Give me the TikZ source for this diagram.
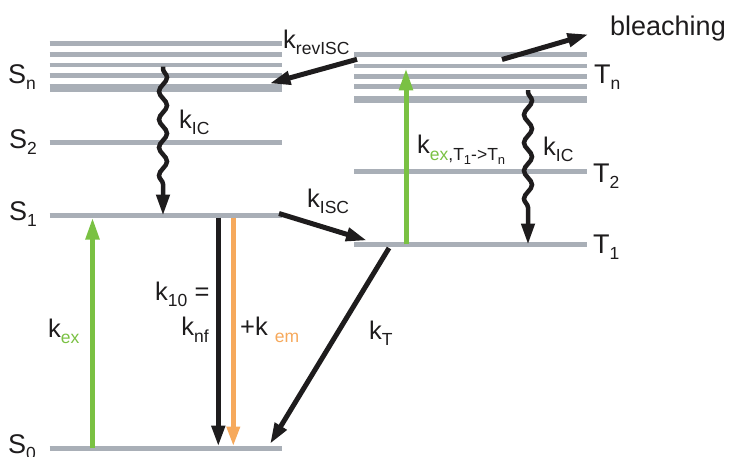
\documentclass[tikz,border=0pt]{standalone}
\usepackage{fontspec}
\setmainfont{Liberation Sans}
\usetikzlibrary{arrows.meta,decorations.pathmorphing}
\definecolor{lvl}{RGB}{169,175,183}
\definecolor{kgreen}{RGB}{122,193,67}
\definecolor{korange}{RGB}{246,169,92}
\definecolor{kblack}{RGB}{30,28,29}
\newcommand\msz{\fontsize{25.5}{29}\selectfont}
\newcommand\bsz{\fontsize{27}{31}\selectfont}
\newcommand\lsz{\fontsize{27}{31}\selectfont}
\newcommand\lsb[1]{\raisebox{-6.5pt}{\fontsize{17.5}{17.5}\selectfont #1}}
\newcommand\llsb[1]{\raisebox{-4pt}{\fontsize{13}{13}\selectfont #1}}
\begin{document}
\begin{tikzpicture}[x=1pt,y=-1pt,
  level/.style={draw=lvl,line width=4.8pt},
  thicklevel/.style={draw=lvl,line width=7.5pt},
  lab/.style={anchor=base west,inner sep=0pt,font=\msz,text=kblack},
  slab/.style={anchor=base west,inner sep=0pt,font=\lsz,text=kblack},
  arr/.style={draw=kblack,line width=5pt,-{Triangle[length=21pt,width=13pt]}},
  garr/.style={draw=kgreen,line width=5pt,-{Triangle[length=22pt,width=13pt]}},
  oarr/.style={draw=korange,line width=5pt,-{Triangle[length=20pt,width=12.5pt]}},
  wavy/.style={draw=kblack,line width=4.5pt,-{Triangle[length=21pt,width=13pt]},
    decorate,decoration={snake,amplitude=4pt,segment length=28pt,pre length=2pt,post length=24pt}}]
\useasboundingbox (0,0) rectangle (731,456);
% singlet levels
\foreach \y in {43.8,54.5,65,75.5} \draw[level] (49.5,\y) -- (281.5,\y);
\draw[thicklevel] (49.5,87.8) -- (281.5,87.8);
\draw[level] (49.5,142.7) -- (281.5,142.7);
\draw[level] (49.5,215.3) -- (281.5,215.3);
\draw[level] (49.5,448.3) -- (281.5,448.3);
% triplet levels
\foreach \y in {54.8,66,76.7,86.8} \draw[level] (354,\y) -- (586.5,\y);
\draw[thicklevel] (354,99.7) -- (586.5,99.7);
\draw[level] (354,171.7) -- (586.5,171.7);
\draw[level] (354,244.3) -- (586.5,244.3);
% state labels
\node[slab] (Sn) at (8,83.3) {S\lsb{n}};
\node[slab] (S2) at (9,148.3) {S\lsb{2}};
\node[slab] (S1) at (9,220.3) {S\lsb{1}};
\node[slab] (S0) at (8,453.3) {S\lsb{0}};
\node[slab] (Tn) at (594,83.3) {T\lsb{n}};
\node[slab] (T2) at (593,182.3) {T\lsb{2}};
\node[slab] (T1) at (593,253.3) {T\lsb{1}};
% rate labels
\node[lab,font=\bsz] (bl) at (610,35) {bleaching};
\node[lab] (krev) at (283,48.3) {k\lsb{revISC}};
\node[lab] (kic1) at (179,128.3) {k\lsb{IC}};
\node[lab] (kisc) at (307,207.3) {k\lsb{ISC}};
\node[lab] (kex) at (48,337.3) {k\lsb{\textcolor{kgreen}{ex}}};
\node[lab] (k10) at (155,300) {k\lsb{10} =};
\node[lab,anchor=base east] (knf) at (209,335.5) {k\lsb{nf}};
\node[lab] (kem) at (240,335.5) {+k \lsb{\textcolor{korange}{em}}};
\node[lab] (kT) at (369,339) {k\lsb{T}};
\node[lab] (kexT) at (417,153.5) {k\lsb{\textcolor{kgreen}{ex},T\llsb{1}->T\llsb{n}}};
\node[lab] (kic2) at (543,155) {k\lsb{IC}};
% arrow end points
\coordinate (exA) at (92.5,448.3); \coordinate (exB) at (92.5,217.5);
\coordinate (nfA) at (218.3,217.5); \coordinate (nfB) at (218.3,446.5);
\coordinate (emA) at (233.3,217.5); \coordinate (emB) at (233.3,446.5);
\coordinate (tA) at (389,248); \coordinate (tB) at (270,444);
\coordinate (iscA) at (279,213.5); \coordinate (iscB) at (367,240.5);
\coordinate (revA) at (357,59.3); \coordinate (revB) at (269.5,83.5);
\coordinate (bleA) at (502,59.5); \coordinate (bleB) at (588.5,34.3);
\coordinate (gtA) at (406,244.3); \coordinate (gtB) at (406,68.3);
\coordinate (w1A) at (163,66.7); \coordinate (w1B) at (163,215.5);
\coordinate (w2A) at (528,90); \coordinate (w2B) at (528,244.5);
% arrows
\draw[garr] (exA) -- (exB);
\draw[arr] (nfA) -- (nfB);
\draw[oarr] (emA) -- (emB);
\draw[arr] (tA) -- (tB);
\draw[arr] (iscA) -- (iscB);
\draw[arr] (revA) -- (revB);
\draw[arr] (bleA) -- (bleB);
\draw[garr] (gtA) -- (gtB);
\draw[wavy] (w1A) -- (w1B);
\draw[wavy] (w2A) -- (w2B);
\end{tikzpicture}
\end{document}
